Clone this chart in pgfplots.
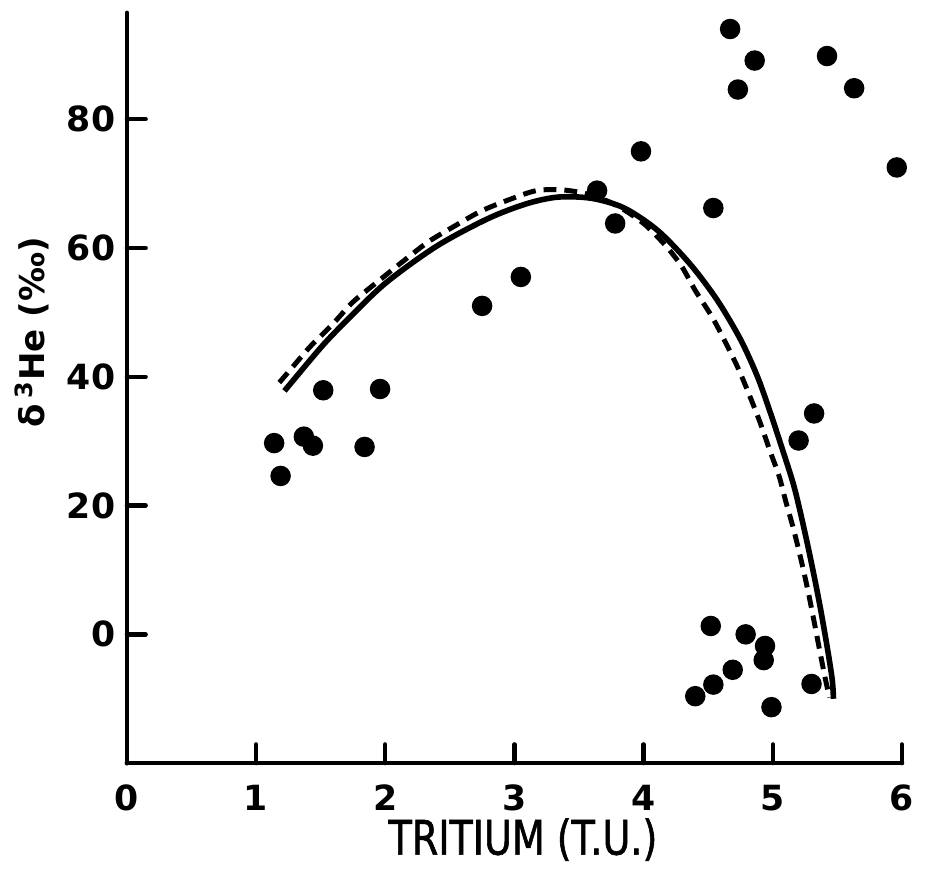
\documentclass[border=0pt]{standalone}
\usepackage{pgfplots}
\pgfplotsset{compat=1.18}
\usepackage{fontspec}
\setmainfont{DejaVu Sans}
\newfontfamily\narrowfont[FakeStretch=0.8, FakeBold=1.2]{DejaVu Sans}

\begin{document}
\begin{tikzpicture}
% page frame
\path (0pt,0pt) rectangle (277.5pt,260.7pt);
\begin{axis}[
  at={(38.4pt,29.7pt)}, anchor=south west,
  scale only axis, width=234.6pt, height=227.1pt,
  xmin=0, xmax=6, ymin=-20, ymax=96.5,
  axis lines=left,
  axis line style={-, line width=1.4pt, line cap=round},
  xtick={0,1,2,3,4,5,6}, ytick={0,20,40,60,80},
  tick align=inside, major tick length=5.7pt,
  tick style={line width=1.3pt, black, line cap=round},
  /pgf/number format/assume math mode=true,
  every tick label/.append style={font=\fontsize{10.5}{12}\selectfont\bfseries},
  xticklabel style={yshift=-3pt},
  every axis x label/.style={at={(axis description cs:0.511,-0.102)}, anchor=center},
  every axis y label/.style={at={(axis description cs:-0.123,0.574)}, rotate=90, anchor=center},
  xlabel={\narrowfont\fontsize{14.4}{16}\selectfont TRITIUM (T.U.)},
  ylabel={\fontsize{10.3}{12}\selectfont\bfseries δ\,\textsuperscript{3}He (‰)},
  clip=false,
]
% model curve (solid)
\addplot[black, line width=1.7pt, smooth, tension=0.5, mark=none] coordinates {
  (1.22,37.8) (1.50,44.5) (1.68,48.3) (2.00,54.5) (2.40,60.3) (2.80,64.6)
  (3.10,66.9) (3.34,67.9) (3.60,67.7) (3.85,66.2) (4.11,62.7) (4.36,57.5)
  (4.57,51.9) (4.75,45.8) (4.88,40.1) (4.98,34.5) (5.08,28.4) (5.16,23.3)
  (5.22,18.4) (5.29,12.0) (5.36,5.0) (5.42,-1.8) (5.46,-7.0) (5.47,-10.0)
};
% model curve (dashed)
\addplot[black, line width=1.5pt, smooth, tension=0.5, mark=none,
  dash pattern=on 3.9pt off 2.4pt] coordinates {
  (1.18,39.1) (1.27,41.2) (1.42,44.7) (1.59,48.1) (1.75,51.6) (1.95,54.9)
  (2.13,57.8) (2.33,60.9) (2.52,63.2) (2.74,65.7) (2.96,67.5) (3.17,68.9)
  (3.38,69.0) (3.60,68.2) (3.80,66.5) (4.00,63.8) (4.16,60.6) (4.29,57.3)
  (4.40,53.4) (4.53,49.3) (4.63,45.5) (4.73,41.4) (4.81,37.6) (4.90,33.0)
  (4.98,28.4) (5.05,24.5) (5.10,20.7) (5.16,16.4) (5.22,11.5) (5.27,7.0)
  (5.32,2.0) (5.37,-3.2) (5.41,-7.2) (5.44,-9.8)
};
% measurements
\addplot[only marks, mark=*, mark size=2.9pt, black] coordinates {
  (1.14,29.7) (1.19,24.6) (1.37,30.7) (1.44,29.3) (1.52,37.9) (1.84,29.1)
  (1.96,38.1) (2.75,51.0) (3.05,55.5) (3.64,68.9) (3.78,63.8) (3.98,75.0)
  (4.54,66.2) (4.67,94.0) (4.86,89.1) (4.73,84.6) (5.42,89.8) (5.63,84.8)
  (5.96,72.5) (5.20,30.1) (5.32,34.3)
  (4.52,1.3) (4.79,0.0) (4.94,-1.8) (4.93,-4.0) (4.69,-5.5) (4.54,-7.8)
  (4.40,-9.6) (4.99,-11.3) (5.30,-7.7)
};
\end{axis}
\end{tikzpicture}
\end{document}
